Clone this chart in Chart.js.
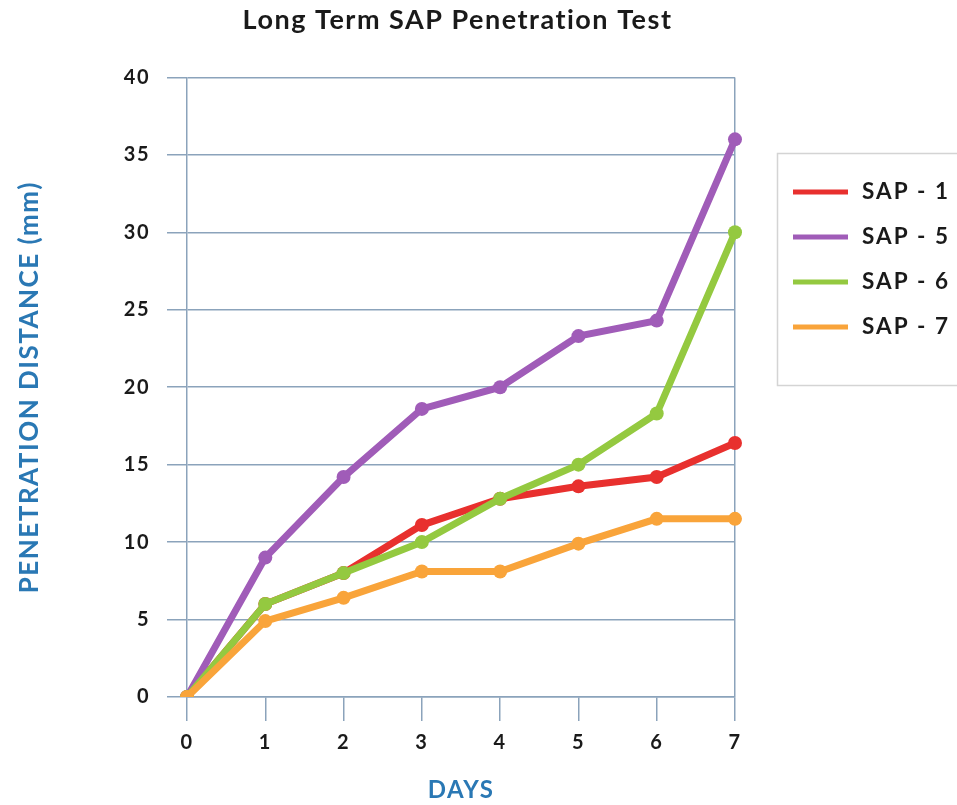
<!DOCTYPE html>
<html>
<head>
<meta charset="utf-8">
<script src="https://cdn.jsdelivr.net/npm/chart.js@4.4.0/dist/chart.umd.min.js"></script>
<style>
  html, body { margin: 0; padding: 0; background: #fff; }
  #wrap { width: 957px; height: 805px; position: relative; }
</style>
</head>
<body>
<div id="wrap"><canvas id="chart"></canvas></div>
<script>
// days on the x axis
const days = ['0', '1', '2', '3', '4', '5', '6', '7'];

// penetration distance (mm)
const sap1 = [0, 6, 8, 11.1, 12.8, 13.6, 14.2, 16.4];
const sap5 = [0, 9, 14.2, 18.6, 20, 23.3, 24.3, 36];
const sap6 = [0, 6, 8, 10, 12.8, 15, 18.3, 30];
const sap7 = [0, 4.9, 6.4, 8.1, 8.1, 9.9, 11.5, 11.5];

const seriesNames = ['SAP - 1', 'SAP - 5', 'SAP - 6', 'SAP - 7'];
const seriesColors = ['#e8302e', '#a05cb8', '#94c940', '#f9a43a'];
// lower = drawn on top (orange over green over red)
const seriesOrder = [3, 2, 1, 0];

const FONT = "Lato, 'Open Sans', sans-serif";
const GRID = '#8ba3bb';
const BLUE = '#2a78b4';

function makeSet(i, values) {
  return {
    label: seriesNames[i],
    data: values,
    order: seriesOrder[i],
    borderColor: seriesColors[i],
    backgroundColor: seriesColors[i],
    borderWidth: 7,
    pointRadius: 7,
    pointBorderWidth: 0,
    tension: 0
  };
}

// the original uses a wide, heavy face
const spacing = {
  id: 'spacing',
  beforeDraw(chart) { chart.ctx.letterSpacing = '1.5px'; }
};

// boxed legend on the right, drawn from the datasets
const boxLegend = {
  id: 'boxLegend',
  afterDraw(chart) {
    const c = chart.ctx;
    c.save();
    c.strokeStyle = '#d4d4d4';
    c.lineWidth = 1.5;
    c.strokeRect(777.5, 153.5, 200, 232);
    chart.data.datasets.forEach((ds, i) => {
      const y = 192 + i * 45;
      c.strokeStyle = ds.borderColor;
      c.lineWidth = 5;
      c.beginPath();
      c.moveTo(793, y);
      c.lineTo(848, y);
      c.stroke();
      c.fillStyle = '#1a1a1a';
      c.font = 'bold 22.5px ' + FONT;
      c.letterSpacing = '2px';
      c.textBaseline = 'middle';
      c.fillText(ds.label, 862, y);
    });
    c.restore();
  }
};

new Chart(document.getElementById('chart'), {
  type: 'line',
  data: {
    labels: days,
    datasets: [
      makeSet(0, sap1),
      makeSet(1, sap5),
      makeSet(2, sap6),
      makeSet(3, sap7)
    ]
  },
  options: {
    responsive: true,
    maintainAspectRatio: false,
    animation: false,
    layout: { padding: { left: 0, right: 42, top: 0, bottom: 0 } },
    plugins: {
      legend: { display: false },
      tooltip: { enabled: false },
      title: {
        display: true,
        text: 'Long Term SAP Penetration Test',
        color: '#1a1a1a',
        font: { family: FONT, size: 27, weight: 'bold' },
        padding: { top: 4, bottom: 41 }
      }
    },
    scales: {
      x: {
        offset: false,
        grid: {
          drawOnChartArea: true,
          color: ctx => ctx.index === days.length - 1 ? GRID : 'rgba(0,0,0,0)',
          tickColor: GRID,
          tickLength: 24,
          lineWidth: 1.5
        },
        border: { color: GRID, width: 1.5 },
        ticks: {
          color: '#1a1a1a',
          padding: 10,
          font: { family: FONT, size: 20, weight: 'bold' }
        },
        title: {
          display: true,
          text: 'DAYS',
          color: BLUE,
          font: { family: FONT, size: 24, weight: 'bold' },
          padding: { top: 21, bottom: 0 }
        },
        afterFit: s => { s.height = 108; }
      },
      y: {
        min: 0,
        max: 40,
        ticks: {
          stepSize: 5,
          color: '#1a1a1a',
          padding: 17,
          font: { family: FONT, size: 20, weight: 'bold' }
        },
        grid: { color: GRID, tickLength: 20, lineWidth: 1.5 },
        border: { color: GRID, width: 1.5 },
        title: {
          display: true,
          text: 'PENETRATION DISTANCE (mm)',
          color: BLUE,
          font: { family: FONT, size: 26, weight: 'bold' },
          padding: { top: 14, bottom: 0 }
        },
        afterFit: s => { s.width = 187; }
      },
      // empty axis that only keeps room for the legend box
      y2: {
        position: 'right',
        display: true,
        min: 0,
        max: 40,
        grid: { display: false },
        border: { display: false },
        ticks: { display: false },
        afterFit: s => { s.width = 180; }
      }
    }
  },
  plugins: [spacing, boxLegend]
});
</script>
</body>
</html>
